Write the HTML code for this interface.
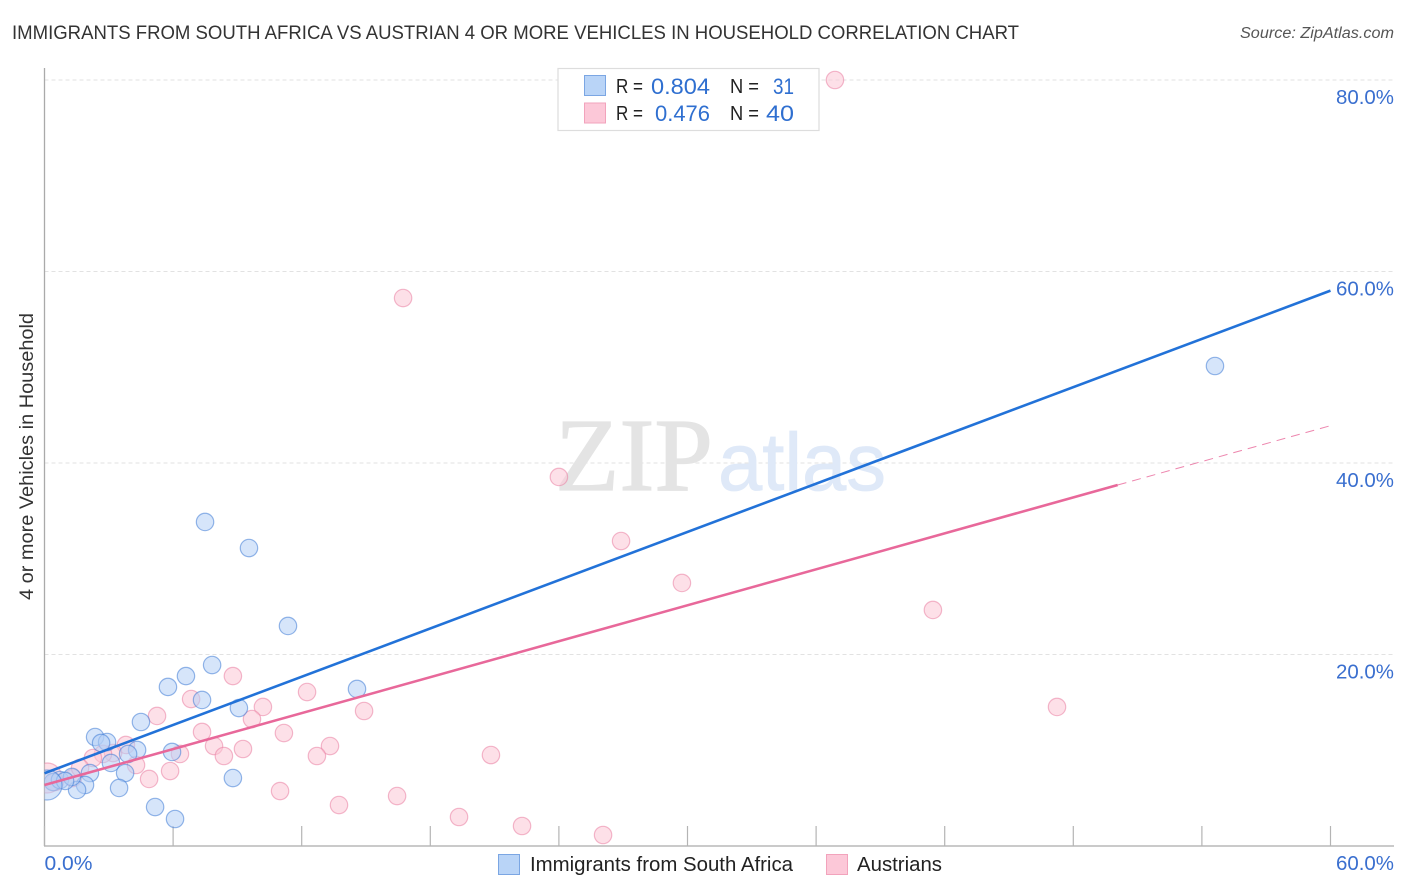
<!DOCTYPE html>
<html lang="en">
<head>
<meta charset="utf-8">
<title>Immigrants from South Africa vs Austrian 4 or more Vehicles in Household Correlation Chart</title>
<style>
html,body{margin:0;padding:0;background:#fff;width:1406px;height:892px;overflow:hidden}
svg{display:block}
text{font-family:"Liberation Sans",sans-serif}
</style>
</head>
<body>
<svg id="chart" xmlns="http://www.w3.org/2000/svg" width="1406" height="892" viewBox="0 0 1406 892">
  <defs>
    <clipPath id="plot-clip"><rect x="44.5" y="60" width="1350" height="786"/></clipPath>
  </defs>
  <rect x="0" y="0" width="1406" height="892" fill="#fff"/>
  <text x="12" y="39" font-size="19.5" fill="#333" textLength="1007" lengthAdjust="spacingAndGlyphs">IMMIGRANTS FROM SOUTH AFRICA VS AUSTRIAN 4 OR MORE VEHICLES IN HOUSEHOLD CORRELATION CHART</text>
  <text x="1394" y="38" font-size="15.5" font-style="italic" fill="#555" text-anchor="end" textLength="154" lengthAdjust="spacingAndGlyphs">Source: ZipAtlas.com</text>

  <g id="grid"></g>

  <g>
    <text x="555" y="490" font-size="104" fill="#e4e4e4" stroke="#e4e4e4" stroke-width="1.2" textLength="158" lengthAdjust="spacingAndGlyphs" style="font-family:'Liberation Serif',serif">ZIP</text>
    <text x="718" y="490" font-size="82" fill="#dfe9f8" stroke="#dfe9f8" stroke-width="0.8" textLength="168" lengthAdjust="spacingAndGlyphs">atlas</text>
  </g>

  <g id="axes"></g>
  <g id="points" clip-path="url(#plot-clip)"></g>
  <g id="lines"></g>
  <g id="tick-labels"></g>

  <text transform="translate(33,456.5) rotate(-90)" font-size="19" fill="#333" text-anchor="middle" textLength="287" lengthAdjust="spacingAndGlyphs">4 or more Vehicles in Household</text>

  <g>
    <rect x="558" y="68.5" width="261" height="62" fill="#fff" stroke="#ddd" stroke-width="1.2"/>
    <rect x="584.5" y="75.5" width="21" height="20" fill="#b9d4f7" stroke="#7ba6e3" stroke-width="1"/>
    <rect x="584.5" y="103" width="21" height="20" fill="#fcc8d8" stroke="#f2a3bc" stroke-width="1"/>
    <text x="616" y="93" font-size="20" fill="#222" textLength="27" lengthAdjust="spacingAndGlyphs">R =</text>
    <text x="651" y="94" font-size="22" fill="#2f6fd0" textLength="59" lengthAdjust="spacingAndGlyphs">0.804</text>
    <text x="730" y="93" font-size="20" fill="#222" textLength="29" lengthAdjust="spacingAndGlyphs">N =</text>
    <text x="773" y="94" font-size="22" fill="#2f6fd0" textLength="21" lengthAdjust="spacingAndGlyphs">31</text>
    <text x="616" y="120" font-size="20" fill="#222" textLength="27" lengthAdjust="spacingAndGlyphs">R =</text>
    <text x="655" y="121" font-size="22" fill="#2f6fd0" textLength="55" lengthAdjust="spacingAndGlyphs">0.476</text>
    <text x="730" y="120" font-size="20" fill="#222" textLength="29" lengthAdjust="spacingAndGlyphs">N =</text>
    <text x="766" y="121" font-size="22" fill="#2f6fd0" textLength="28" lengthAdjust="spacingAndGlyphs">40</text>
  </g>

  <g>
    <rect x="498.5" y="854.5" width="21" height="20" fill="#b9d4f7" stroke="#7ba6e3" stroke-width="1"/>
    <text x="530" y="871" font-size="20" fill="#222" textLength="263" lengthAdjust="spacingAndGlyphs">Immigrants from South Africa</text>
    <rect x="826.5" y="854.5" width="21" height="20" fill="#fcc8d8" stroke="#f2a3bc" stroke-width="1"/>
    <text x="857" y="871" font-size="20" fill="#222" textLength="85" lengthAdjust="spacingAndGlyphs">Austrians</text>
  </g>
</svg>
<script>
const blueX = [7.49,9.54,11.36,54.61,14.58,7.82,6.60,5.76,7.35,9.07,4.50,2.36,2.92,2.64,4.32,5.95,3.90,3.10,3.76,2.12,8.79,3.48,5.16,6.09,1.89,1.52,0.40,0.72,1.28,0.96,0.12];
const blueY = [33.84,31.12,22.98,50.13,16.40,18.90,17.75,16.61,15.25,14.41,12.95,11.38,10.86,10.76,10.03,9.82,9.61,8.67,7.62,7.62,7.10,6.06,4.07,2.82,6.37,5.85,6.68,6.89,7.21,6.79,6.37];
const blueWeight = [1,1,1,1,1,1,1,1,1,1,1,1,1,1,1,1,1,1,1,1,1,1,1,1,1,1,1,1,1,1,3];
const pinkX = [36.88,16.73,24.00,26.90,29.74,41.45,47.24,20.83,19.34,22.28,26.06,8.79,6.84,5.25,12.25,10.19,9.68,14.91,7.35,11.17,7.91,8.37,9.26,13.32,12.71,6.32,5.86,4.88,4.27,3.80,3.20,2.73,2.26,10.99,13.74,16.45,1.33,1.66,0.49,0.12];
const pinkY = [80.00,57.23,38.54,31.85,27.47,24.65,14.52,9.50,3.03,2.09,1.15,17.75,15.35,13.58,16.08,14.52,13.26,14.10,11.91,11.80,10.44,9.40,10.13,10.44,9.40,9.61,7.83,7.00,8.46,10.55,9.71,9.61,9.19,5.74,4.28,5.22,7.10,8.15,6.68,7.10];
const pinkWeight = [1,1,1,1,1,1,1,1,1,1,1,1,1,1,1,1,1,1,1,1,1,1,1,1,1,1,1,1,1,1,1,1,1,1,1,1,1,1,1,3];
const blueTrendX = [0,60];
const blueTrendY = [7.6,58.0];
const pinkTrendX = [0,50.07];
const pinkTrendY = [6.37,37.7];
const pinkExtendX = [50.07,60];
const pinkExtendY = [37.7,43.9];
const yGridValues = [20,40,60,80];
const yTickLabels = ["20.0%","40.0%","60.0%","80.0%"];
const xTickValues = [0,6,12,18,24,30,36,42,48,54,60];
const xEndValues = [0,60];
const xEndLabels = ["0.0%","60.0%"];

const NS = "http://www.w3.org/2000/svg";
function xScale(v){ return 44.5 + v * (1286 / 60); }
function yScale(v){ return 846 - v * (191.5 / 20); }
function rScale(w){ return w > 1 ? 15 : 8.7; }
function make(tag, attrs, parent){
  const el = document.createElementNS(NS, tag);
  for (const k in attrs) el.setAttribute(k, attrs[k]);
  parent.appendChild(el);
  return el;
}

const grid = document.getElementById("grid");
yGridValues.forEach(function(v){
  const el = make("line", {x1:44.5, x2:1394, y1:yScale(v), y2:yScale(v), stroke:"#e2e2e2", "stroke-width":1, "stroke-dasharray":"4 3"}, grid);
  
  
});

const axes = document.getElementById("axes");
const yAxis = make("line", {x1:44.5, x2:44.5, y1:68, y2:846, stroke:"#aaa", "stroke-width":1.3}, axes);


const xAxis = make("line", {x1:44, x2:1394, y1:846, y2:846, stroke:"#aaa", "stroke-width":1.3}, axes);


xTickValues.forEach(function(v){
  const el = make("line", {x1:xScale(v), x2:xScale(v), y1:826, y2:846, stroke:"#b4b4b4", "stroke-width":1.2}, axes);
  
  
});

const points = document.getElementById("points");
function drawSeries(xs, ys, ws, fill, stroke, name){
  xs.forEach(function(x, i){
    const c = make("circle", {cx:xScale(x), cy:yScale(ys[i]), r:rScale(ws[i]), fill:fill, "fill-opacity":0.55, stroke:stroke, "stroke-opacity":0.55, "stroke-width":1.2}, points);
    
    
  });
}
drawSeries(pinkX, pinkY, pinkWeight, "#fcc6d6", "#e97fa2", "point-austrians");
drawSeries(blueX, blueY, blueWeight, "#b5d0f5", "#3f7cd6", "point-immigrants");

const lines = document.getElementById("lines");
const blueLine = make("line", {x1:xScale(blueTrendX[0]), y1:yScale(blueTrendY[0]), x2:xScale(blueTrendX[1]), y2:yScale(blueTrendY[1]), stroke:"#2272d8", "stroke-width":2.6}, lines);


const pinkLine = make("line", {x1:xScale(pinkTrendX[0]), y1:yScale(pinkTrendY[0]), x2:xScale(pinkTrendX[1]), y2:yScale(pinkTrendY[1]), stroke:"#e8689a", "stroke-width":2.6}, lines);


const pinkExt = make("line", {x1:xScale(pinkExtendX[0]), y1:yScale(pinkExtendY[0]), x2:xScale(pinkExtendX[1]), y2:yScale(pinkExtendY[1]), stroke:"#e8689a", "stroke-width":1, "stroke-dasharray":"9 6", "stroke-opacity":0.8}, lines);



const labels = document.getElementById("tick-labels");
yGridValues.forEach(function(v, i){
  const t = make("text", {x:1394, y:yScale(v) + 24, "font-size":20, fill:"#3a6fcf", "text-anchor":"end", textLength:58, lengthAdjust:"spacingAndGlyphs"}, labels);
  t.textContent = yTickLabels[i];
  
  
});
xEndValues.forEach(function(v, i){
  const t = make("text", {x: i === 0 ? xScale(v) : 1394, y:870, "font-size":20, fill:"#3a6fcf", "text-anchor": i === 0 ? "start" : "end", textLength: i === 0 ? 48 : 58, lengthAdjust:"spacingAndGlyphs"}, labels);
  t.textContent = xEndLabels[i];
  
  
});
</script>
</body>
</html>
